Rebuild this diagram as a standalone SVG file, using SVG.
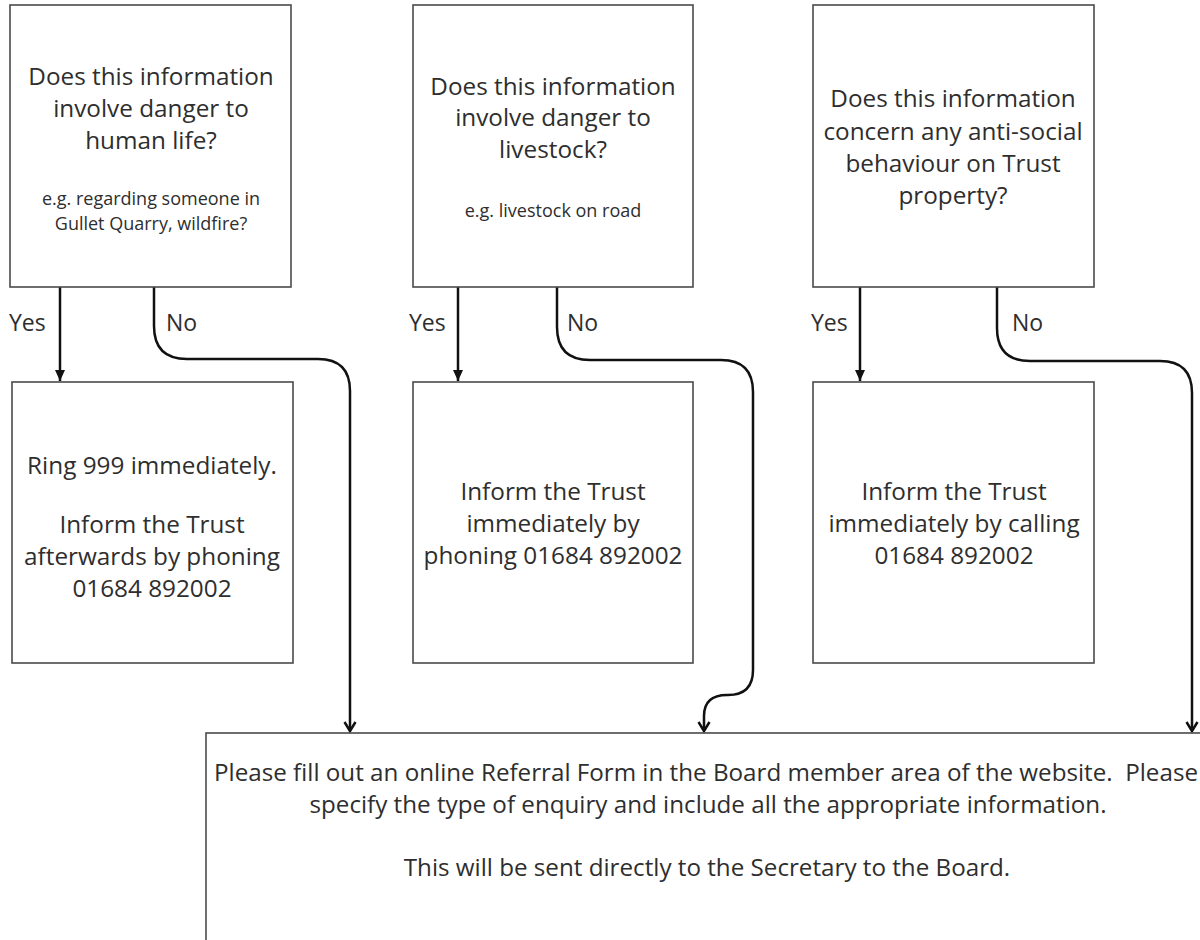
<svg xmlns="http://www.w3.org/2000/svg" width="1200" height="940" viewBox="0 0 1200 940">
<style>
.box{fill:#fff;stroke:#4a4a4a;stroke-width:1.6}
.t{font-family:"Open Sans","Noto Sans",sans-serif;font-size:24.3px;fill:#2e2e2e;text-anchor:middle}
.s{font-family:"Open Sans","Noto Sans",sans-serif;font-size:18px;fill:#2e2e2e;text-anchor:middle}
.b{font-family:"Open Sans","Noto Sans",sans-serif;font-size:24.2px;fill:#2e2e2e;text-anchor:middle}
.lbl{font-family:"Open Sans","Noto Sans",sans-serif;font-size:23px;fill:#2e2e2e}
.c{fill:none;stroke:#111;stroke-width:2.5}
</style>
<defs>
<marker id="tri" markerUnits="userSpaceOnUse" markerWidth="14" markerHeight="12" refX="12" refY="6" orient="auto">
<path d="M1,1 L12,6 L1,11 Z" fill="#111"/>
</marker>
<marker id="chev" markerUnits="userSpaceOnUse" markerWidth="14" markerHeight="14" refX="11" refY="7" orient="auto">
<path d="M2,1.5 L11,7 L2,12.5" fill="none" stroke="#111" stroke-width="2.5"/>
</marker>
</defs>
<rect width="1200" height="940" fill="#fff"/>

<g id="connectors">
<path class="c" d="M60 287 V381" marker-end="url(#tri)"/>
<path class="c" d="M458 287 V381" marker-end="url(#tri)"/>
<path class="c" d="M860 287 V381" marker-end="url(#tri)"/>
<path class="c" d="M154 287 V326 Q154 359 187 359 H318 Q350 359 350 391 V731" marker-end="url(#chev)"/>
<path class="c" d="M557 287 V327 Q557 360 590 360 H721 Q753 360 753 392 V670 Q753 695 728 695 H727 Q704 695 704 716 V731" marker-end="url(#chev)"/>
<path class="c" d="M997 287 V328 Q997 361 1030 361 H1160 Q1192 361 1192 393 V731" marker-end="url(#chev)"/>
<text class="lbl" x="9" y="331">Yes</text>
<text class="lbl" x="166" y="331">No</text>
<text class="lbl" x="409" y="331">Yes</text>
<text class="lbl" x="567" y="331">No</text>
<text class="lbl" x="811" y="331">Yes</text>
<text class="lbl" x="1012" y="331">No</text>
</g>

<g id="q1">
<rect class="box" x="10" y="5" width="281" height="282"/>
<text class="t" x="151" y="85">Does this information</text>
<text class="t" x="151" y="117">involve danger to</text>
<text class="t" x="151" y="149">human life?</text>
<text class="s" x="151" y="205">e.g. regarding someone in</text>
<text class="s" x="151" y="230">Gullet Quarry, wildfire?</text>
</g>

<g id="q2">
<rect class="box" x="413" y="5" width="280" height="282"/>
<text class="t" x="553" y="95">Does this information</text>
<text class="t" x="553" y="126">involve danger to</text>
<text class="t" x="553" y="158">livestock?</text>
<text class="s" x="553" y="217">e.g. livestock on road</text>
</g>

<g id="q3">
<rect class="box" x="813" y="5" width="281" height="282"/>
<text class="t" x="953" y="107">Does this information</text>
<text class="t" x="953" y="139.5">concern any anti-social</text>
<text class="t" x="953" y="172">behaviour on Trust</text>
<text class="t" x="953" y="204">property?</text>
</g>

<g id="a1">
<rect class="box" x="12" y="382" width="281" height="281"/>
<text class="t" x="152" y="474">Ring 999 immediately.</text>
<text class="t" x="152" y="533">Inform the Trust</text>
<text class="t" x="152" y="565">afterwards by phoning</text>
<text class="t" x="152" y="597">01684 892002</text>
</g>

<g id="a2">
<rect class="box" x="413" y="382" width="280" height="281"/>
<text class="t" x="553" y="500">Inform the Trust</text>
<text class="t" x="553" y="532">immediately by</text>
<text class="t" x="553" y="564">phoning 01684 892002</text>
</g>

<g id="a3">
<rect class="box" x="813" y="382" width="281" height="281"/>
<text class="t" x="954" y="500">Inform the Trust</text>
<text class="t" x="954" y="532">immediately by calling</text>
<text class="t" x="954" y="564">01684 892002</text>
</g>

<g id="referral">
<rect class="box" x="206" y="733" width="1010" height="230"/>
<text class="b" x="706" y="781" xml:space="preserve">Please fill out an online Referral Form in the Board member area of the website.  Please</text>
<text class="b" x="708" y="813">specify the type of enquiry and include all the appropriate information.</text>
<text class="b" x="707" y="876">This will be sent directly to the Secretary to the Board.</text>
</g>
</svg>
